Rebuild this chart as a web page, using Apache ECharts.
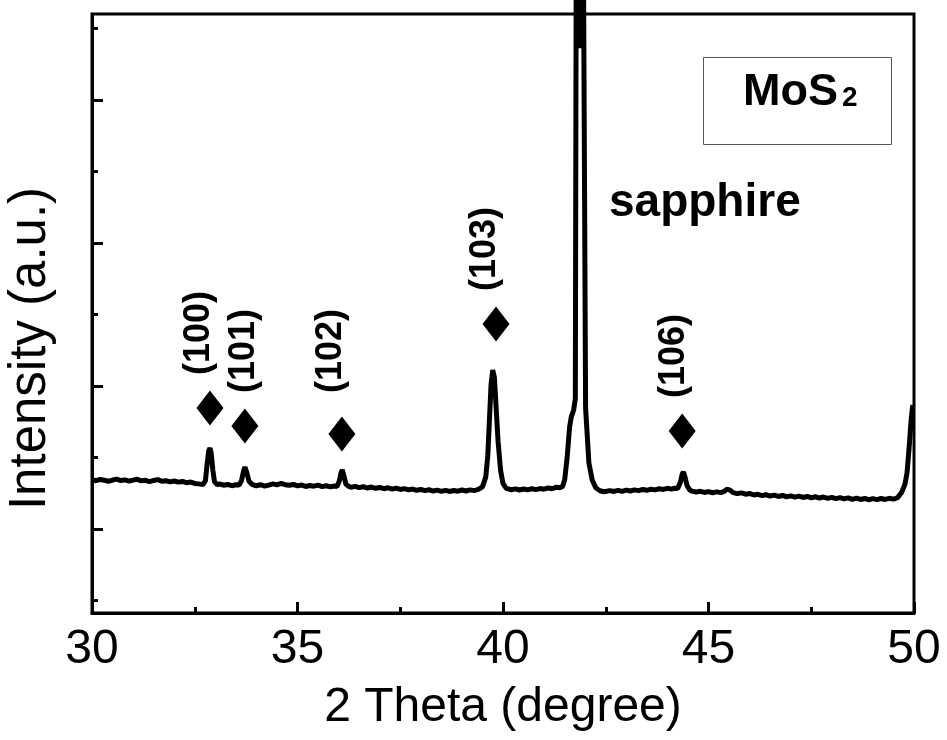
<!DOCTYPE html>
<html>
<head>
<meta charset="utf-8">
<script src="https://cdn.jsdelivr.net/npm/echarts@6/dist/echarts.min.js"></script>
<style>
  html, body { margin: 0; padding: 0; background: #fff; }
  #chart { width: 947px; height: 740px; }
</style>
</head>
<body>
<div id="chart"></div>
<script>
// ---- Data (2 Theta in degrees, intensity in arbitrary counts) ----
const scan = [
  [30.0,932],[30.1,925],[30.2,934],[30.3,928],[30.4,921],[30.5,930],[30.6,936],[30.7,926],[30.8,931],[30.9,922],
  [31.0,929],[31.1,935],[31.2,924],[31.3,928],[31.4,919],[31.5,927],[31.6,933],[31.7,921],[31.8,925],[31.9,917],
  [32.0,923],[32.1,915],[32.2,920],[32.3,911],[32.4,916],[32.5,906],[32.6,903],
  [32.70,898],[32.76,925],[32.80,1040],[32.84,1135],[32.87,1154],[32.90,1118],[32.94,1000],[32.98,918],[33.05,897],
  [33.1,902],[33.2,894],[33.3,899],[33.4,890],[33.5,897],
  [33.58,895],[33.64,928],[33.69,995],[33.72,1021],[33.76,988],[33.82,922],[33.90,898],
  [34.0,890],[34.1,897],[34.2,888],[34.3,894],[34.4,903],[34.5,896],[34.6,906],[34.7,897],[34.8,893],[34.9,899],
  [35.0,889],[35.1,895],[35.2,885],[35.3,892],[35.4,887],[35.5,894],[35.6,884],[35.7,890],[35.8,882],[35.9,888],
  [35.96,884],[36.02,925],[36.06,982],[36.09,1000],[36.13,958],[36.18,900],[36.25,885],
  [36.3,879],[36.4,886],[36.5,877],[36.6,883],[36.7,874],[36.8,881],[36.9,872],[37.0,878],[37.1,869],[37.2,876],
  [37.3,866],[37.4,873],[37.5,864],[37.6,870],[37.7,861],[37.8,867],[37.9,858],[38.0,864],[38.1,856],[38.2,862],
  [38.3,853],[38.4,859],[38.5,851],[38.6,858],[38.7,850],[38.8,857],[38.9,852],[39.0,860],[39.1,853],[39.2,861],
  [39.3,856],[39.4,864],
  [39.50,882],[39.58,950],[39.63,1100],[39.67,1350],[39.71,1600],[39.75,1699],[39.79,1650],[39.83,1450],[39.88,1200],[39.94,1000],[40.00,905],[40.08,872],
  [40.2,862],[40.3,868],[40.4,860],[40.5,867],[40.6,861],[40.7,869],[40.8,863],[40.9,870],[41.0,866],[41.1,874],[41.2,869],[41.3,880],[41.38,876],
  [41.45,885],[41.50,930],[41.56,1085],[41.62,1300],[41.66,1370],[41.72,1420],[41.76,1500],
  [41.78,4400],[41.81,3950],[41.84,4400],[41.87,3950],[41.90,4400],[41.93,3950],[41.96,4400],[41.985,4400],
  [42.01,1430],[42.09,1050],[42.17,930],[42.26,874],[42.36,855],[42.46,848],
  [42.6,856],[42.7,850],[42.8,858],[42.9,851],[43.0,859],[43.1,853],[43.2,861],[43.3,856],[43.4,864],[43.5,858],
  [43.6,866],[43.7,861],[43.8,869],[43.9,864],[44.0,872],[44.1,866],[44.18,873],
  [44.25,870],[44.32,918],[44.36,972],[44.39,986],[44.43,948],[44.48,890],[44.55,858],
  [44.6,852],[44.7,846],[44.8,851],[44.9,843],[45.0,849],[45.1,841],[45.2,847],[45.3,842],
  [45.38,850],[45.45,866],[45.52,860],[45.6,842],
  [45.7,835],[45.8,840],[45.9,831],[46.0,836],[46.1,825],[46.2,830],[46.3,821],[46.4,827],[46.5,818],[46.6,824],
  [46.7,815],[46.8,822],[46.9,813],[47.0,819],[47.1,810],[47.2,817],[47.3,808],[47.4,815],[47.5,806],[47.6,813],
  [47.7,804],[47.8,811],[47.9,802],[48.0,809],[48.1,800],[48.2,807],[48.3,798],[48.4,805],[48.5,795],[48.6,803],
  [48.7,794],[48.8,801],[48.9,792],[49.0,800],[49.1,793],[49.2,801],[49.3,794],[49.4,802],[49.5,796],[49.6,806],
  [49.70,845],[49.78,900],[49.83,980],[49.88,1150],[49.93,1350],[49.97,1455]
];

// MoS2 reflections: marker positions
const hklNames   = ['(100)', '(101)', '(102)', '(103)', '(106)'];
const markerX    = [32.87, 33.72, 36.08, 39.83, 44.36];
const markerY    = [1434, 1308, 1252, 2021, 1273];
// label anchor (start of the rotated text) in data units
const labelX     = [32.60, 33.70, 35.82, 39.56, 44.16];
const labelY     = [1664, 1538, 1538, 2252, 1503];

// x axis ticks
const xMin = 30, xMax = 50, xStep = 5;
// y axis (no labels): extent and tick positions
const yMin = 0, yMax = 4189;
const yMajorTicks = [587, 1587, 2587, 3587];
const yMinorTicks = [87, 1087, 2087, 3087, 4087];

const FONT = 'Liberation Sans, Arial, sans-serif';

const chart = echarts.init(document.getElementById('chart'), null, { renderer: 'canvas' });

const option = {
  animation: false,
  backgroundColor: '#ffffff',
  grid: {
    left: 92, right: 33, top: 14, bottom: 127,
    outerBoundsMode: 'none', containLabel: false,
    show: true, borderColor: '#000', borderWidth: 3, backgroundColor: 'transparent'
  },
  xAxis: {
    type: 'value', min: xMin, max: xMax, interval: xStep,
    axisLine: { lineStyle: { color: '#000', width: 3 } },
    axisTick: { inside: true, length: 11, lineStyle: { color: '#000', width: 3 } },
    minorTick: { show: true, splitNumber: 2, length: 6, lineStyle: { color: '#000', width: 3 } },
    splitLine: { show: false },
    axisLabel: { color: '#000', fontSize: 48, fontFamily: FONT, margin: 13 },
    name: '2 Theta (degree)', nameLocation: 'middle', nameGap: 71,
    nameTextStyle: { color: '#000', fontSize: 48, fontFamily: FONT }
  },
  yAxis: [
    {
      type: 'value', min: yMin, max: yMax, position: 'left',
      axisLine: { show: true, lineStyle: { color: '#000', width: 3 } },
      axisTick: { show: true, inside: true, length: 11, customValues: yMajorTicks, lineStyle: { color: '#000', width: 3 } },
      axisLabel: { show: false },
      splitLine: { show: false },
      name: 'Intensity (a.u.)', nameLocation: 'middle', nameGap: 36,
      nameTextStyle: { color: '#000', fontSize: 51, fontFamily: FONT, padding: [0, 70, 0, 0] }
    },
    {
      type: 'value', min: yMin, max: yMax, position: 'left',
      axisLine: { show: false },
      axisTick: { show: true, inside: true, length: 6, customValues: yMinorTicks, lineStyle: { color: '#000', width: 3 } },
      axisLabel: { show: false },
      splitLine: { show: false }
    }
  ],
  series: [
    {
      type: 'line', data: scan, xAxisIndex: 0, yAxisIndex: 0,
      showSymbol: false, symbol: 'none', clip: false, silent: true,
      lineStyle: { color: '#000', width: 5 }, z: 2
    },
    {
      type: 'scatter', xAxisIndex: 0, yAxisIndex: 0,
      data: markerX.map((x, i) => [x, markerY[i]]),
      symbol: 'diamond', symbolSize: [27, 35],
      itemStyle: { color: '#000', opacity: 1 }, z: 3, silent: true
    },
    {
      type: 'scatter', xAxisIndex: 0, yAxisIndex: 0,
      data: labelX.map((x, i) => ({ value: [x, labelY[i]], name: hklNames[i] })),
      symbolSize: 1, itemStyle: { color: 'rgba(0,0,0,0)', opacity: 1 }, z: 4, silent: true,
      label: {
        show: true, position: 'inside', formatter: '{b}', rotate: 90,
        align: 'left', verticalAlign: 'middle', opacity: 1,
        fontSize: 36, fontWeight: 'bold', color: '#000', fontFamily: FONT
      }
    }
  ],
  graphic: [
    { type: 'rect', shape: { x: 703.5, y: 57.5, width: 188, height: 87 },
      style: { fill: '#fff', stroke: '#555', lineWidth: 1 }, z: 10 },
    { type: 'text', x: 743, y: 93, z: 11,
      style: { text: 'MoS', fontSize: 45, fontWeight: 'bold', fontFamily: FONT, fill: '#000', align: 'left', verticalAlign: 'middle' } },
    { type: 'text', x: 842, y: 98, z: 11,
      style: { text: '2', fontSize: 28, fontWeight: 'bold', fontFamily: FONT, fill: '#000', align: 'left', verticalAlign: 'middle' } },
    { type: 'text', x: 609, y: 203, z: 11,
      style: { text: 'sapphire', fontSize: 46, fontWeight: 'bold', fontFamily: FONT, fill: '#000', align: 'left', verticalAlign: 'middle' } }
  ]
};

chart.setOption(option);
</script>
</body>
</html>
